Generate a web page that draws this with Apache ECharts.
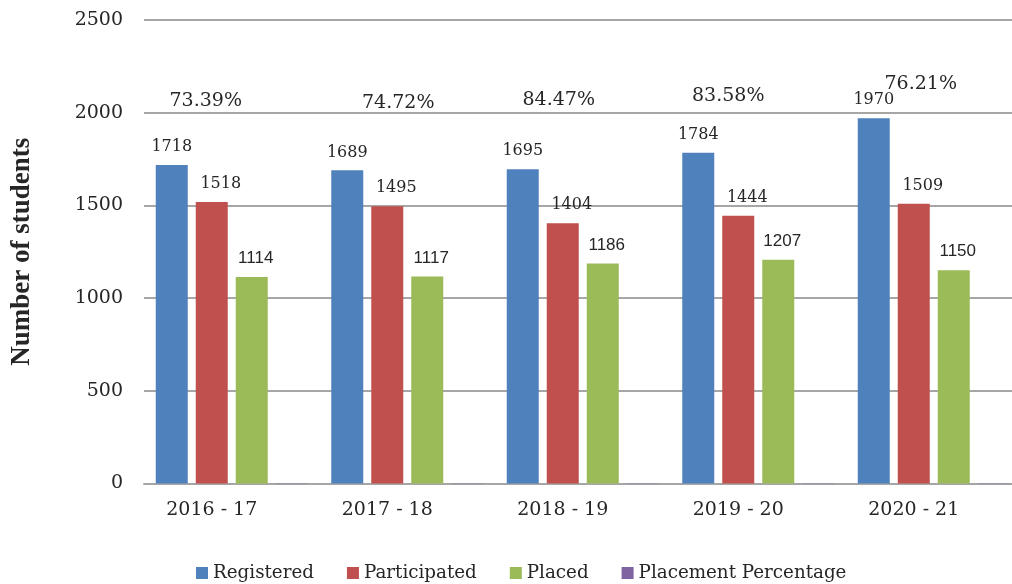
<!DOCTYPE html>
<html>
<head>
<meta charset="utf-8">
<title>Placement statistics</title>
<script src="https://cdn.jsdelivr.net/npm/echarts@6/dist/echarts.min.js"></script>
<style>
  html, body { margin: 0; padding: 0; background: #ffffff; }
  #chart { width: 1012px; height: 584px; }
</style>
</head>
<body>
<div id="chart"></div>
<script>
// Academic years
const years = ['2016 - 17', '2017 - 18', '2018 - 19', '2019 - 20', '2020 - 21'];

// Student counts per year
const registered = [1718, 1689, 1695, 1784, 1970];
const participated = [1518, 1495, 1404, 1444, 1509];
const placed = [1114, 1117, 1186, 1207, 1150];

// Placement percentage (placed / participated), in percent
const placementPct = [73.39, 74.72, 84.47, 83.58, 76.21];

// Value-axis ticks
const yTicks = [0, 500, 1000, 1500, 2000, 2500];

// Hand-placed offsets for the percentage labels (pixels, relative to their bar)
const pctLabelOffsets = [[-86, -372], [-69, -370], [-84, -373], [-90, -377], [-73, -389]];

const serif = '"DejaVu Serif", "Liberation Serif", serif';
const sans = '"Liberation Sans", Arial, sans-serif';
const textColor = '#262626';
const gridColor = '#a6a6a6';

const chart = echarts.init(document.getElementById('chart'), null, { renderer: 'canvas' });

function countLabel(font, size, dx) {
  return {
    show: true,
    position: 'top',
    distance: 10,
    offset: [dx, 0],
    color: textColor,
    fontFamily: font,
    fontSize: size
  };
}

const option = {
  animation: false,
  backgroundColor: '#ffffff',
  // the plot area runs slightly past the right edge of the canvas
  grid: {
    left: 144, width: 877.5, top: 20, bottom: 100.5,
    containLabel: false,
    outerBoundsMode: 'none'
  },
  legend: {
    left: 196,
    top: 564,
    padding: 0,
    itemWidth: 12,
    itemHeight: 12,
    itemGap: 33,
    icon: 'rect',
    textStyle: { fontFamily: serif, fontSize: 18.3, color: textColor },
    data: ['Registered', 'Participated', 'Placed', 'Placement Percentage']
  },
  xAxis: {
    type: 'category',
    data: years,
    axisTick: { show: false },
    axisLine: { show: true, lineStyle: { color: gridColor, width: 2 } },
    axisLabel: {
      color: textColor,
      fontFamily: serif,
      fontSize: 19,
      margin: 17,
      padding: [0, 40, 0, 0]
    }
  },
  yAxis: {
    type: 'value',
    min: yTicks[0],
    max: yTicks[yTicks.length - 1],
    interval: yTicks[1] - yTicks[0],
    name: 'Number of students',
    nameLocation: 'middle',
    nameGap: 108,
    nameRotate: 90,
    nameTextStyle: {
      fontFamily: '"Liberation Serif", "Times New Roman", serif',
      fontWeight: 'bold',
      fontSize: 27,
      color: textColor
    },
    axisLine: { show: false },
    axisTick: { show: false },
    axisLabel: {
      color: textColor,
      fontFamily: serif,
      fontSize: 19,
      margin: 21,
      formatter: (v) => String(v)
    },
    splitLine: { lineStyle: { color: gridColor, width: 2 } }
  },
  series: [
    {
      name: 'Registered',
      type: 'bar',
      data: registered,
      barWidth: 32,
      barGap: '25%',
      itemStyle: { color: '#4F81BD' },
      label: countLabel(serif, 16, 0)
    },
    {
      name: 'Participated',
      type: 'bar',
      data: participated,
      barWidth: 32,
      barGap: '25%',
      itemStyle: { color: '#C0504D' },
      label: countLabel(serif, 16, 9)
    },
    {
      name: 'Placed',
      type: 'bar',
      data: placed,
      barWidth: 32,
      barGap: '25%',
      itemStyle: { color: '#9BBB59' },
      label: countLabel(sans, 17, 4)
    },
    {
      name: 'Placement Percentage',
      type: 'bar',
      barWidth: 32,
      barGap: '25%',
      itemStyle: { color: '#8064A2' },
      data: placementPct.map((p, i) => ({
        value: p / 100,
        label: {
          show: true,
          position: 'top',
          distance: 0,
          offset: pctLabelOffsets[i],
          lineHeight: 20,
          color: textColor,
          fontFamily: serif,
          fontSize: 19,
          formatter: () => p.toFixed(2) + '%'
        }
      }))
    }
  ]
};

chart.setOption(option);
</script>
</body>
</html>
